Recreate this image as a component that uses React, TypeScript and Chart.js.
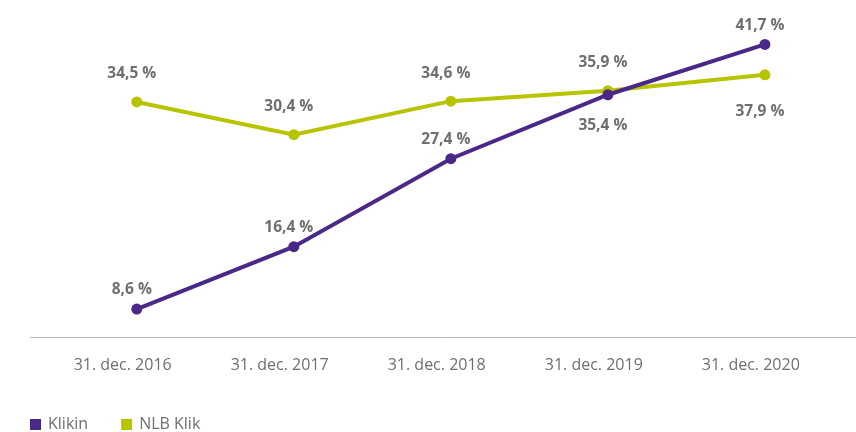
import React, { useEffect, useRef } from "react";
import { Chart, registerables } from "chart.js";

Chart.register(...registerables);

const categories = ["31. dec. 2016", "31. dec. 2017", "31. dec. 2018", "31. dec. 2019", "31. dec. 2020"];
const seriesNames = ["Klikin", "NLB Klik"];
const klikinValues = [8.6, 16.4, 27.4, 35.4, 41.7];
const nlbKlikValues = [34.5, 30.4, 34.6, 35.9, 37.9];
const klikinLabelPos = ["above", "above", "above", "below", "above"];
const nlbKlikLabelPos = ["above", "above", "above", "above", "below"];

const PURPLE = "#4a2888";
const GREEN = "#b9c400";
const GREY = "#6f6f6f";
const FONT = "'Open Sans', sans-serif";

const fmt = (v: number) => v.toFixed(1).replace(".", ",") + " %";

export default function App() {
  const ref = useRef<HTMLCanvasElement | null>(null);
  useEffect(() => {
    if (!ref.current) return;
    const labelPlugin = {
      id: "valueLabels",
      afterDatasetsDraw(chart: any) {
        const ctx = chart.ctx;
        ctx.save();
        ctx.font = `bold 15.5px ${FONT}`;
        ctx.fillStyle = GREY;
        ctx.textAlign = "center";
        ctx.textBaseline = "middle";
        chart.data.datasets.forEach((ds: any, di: number) => {
          const meta = chart.getDatasetMeta(di);
          const pos = di === 0 ? klikinLabelPos : nlbKlikLabelPos;
          meta.data.forEach((pt: any, i: number) => {
            const above = pos[i] === "above";
            const dy = above ? (di === 0 ? -19 : -28) : di === 0 ? 31 : 37;
            ctx.fillText(fmt(ds.data[i].y), pt.x - 5, pt.y + dy);
          });
        });
        ctx.restore();
      },
    };
    const legendPlugin = {
      id: "customLegend",
      afterDraw(chart: any) {
        const ctx = chart.ctx;
        ctx.save();
        ctx.font = `16px ${FONT}`;
        ctx.textBaseline = "middle";
        ctx.textAlign = "left";
        let x = 30;
        const y = 424.5;
        chart.data.datasets.forEach((ds: any, di: number) => {
          ctx.fillStyle = ds.borderColor;
          ctx.fillRect(x, y - 5.5, 11, 11);
          ctx.fillStyle = GREY;
          ctx.fillText(seriesNames[di], x + 18, y);
          x += 18 + ctx.measureText(seriesNames[di]).width + 33;
        });
        ctx.restore();
      },
    };
    const mk = (label: string, vals: number[], color: string) => ({
      label,
      data: vals.map((v, i) => ({ x: i, y: v })),
      borderColor: color,
      backgroundColor: color,
      borderWidth: 4,
      pointRadius: 5.5,
      pointHoverRadius: 5.5,
      pointBackgroundColor: color,
      pointBorderWidth: 0,
      clip: false as any,
    });
    const tickCallback = (v: any) =>
      Number.isInteger(v) && v >= 0 && v < categories.length ? categories[v] : "";
    const chart = new Chart(ref.current, {
      type: "line",
      data: {
        datasets: [mk(seriesNames[0], klikinValues, PURPLE), mk(seriesNames[1], nlbKlikValues, GREEN)],
      },
      options: {
        animation: false,
        responsive: false,
        layout: { autoPadding: false, padding: { top: 18, left: 30, right: 0, bottom: 39 } },
        scales: {
          x: {
            type: "linear",
            display: false,
            min: -0.68,
            max: 4.58,
          },
          xLabels: {
            type: "linear",
            position: "bottom",
            min: -0.59,
            max: 4.67,
            grid: { display: false, drawTicks: false },
            border: { display: true, color: "#bdbdbd", width: 1 },
            ticks: {
              stepSize: 1,
              autoSkip: false,
              maxRotation: 0,
              padding: 18,
              color: GREY,
              font: { family: FONT, size: 16 },
              callback: tickCallback,
            },
            afterBuildTicks: (axis: any) => {
              axis.ticks = categories.map((_, i) => ({ value: i }));
            },
          },
          y: {
            display: false,
            min: 5,
            max: 45,
          },
        },
        plugins: {
          legend: { display: false },
          tooltip: { enabled: false },
        },
      },
      plugins: [labelPlugin, legendPlugin],
    } as any);
    return () => chart.destroy();
  }, []);
  return (
    <div style={{ position: "fixed", left: 0, top: 0, width: 856, height: 432, background: "#fff" }}>
      <canvas ref={ref} width={856} height={432} style={{ width: 856, height: 432 }} />
    </div>
  );
}
